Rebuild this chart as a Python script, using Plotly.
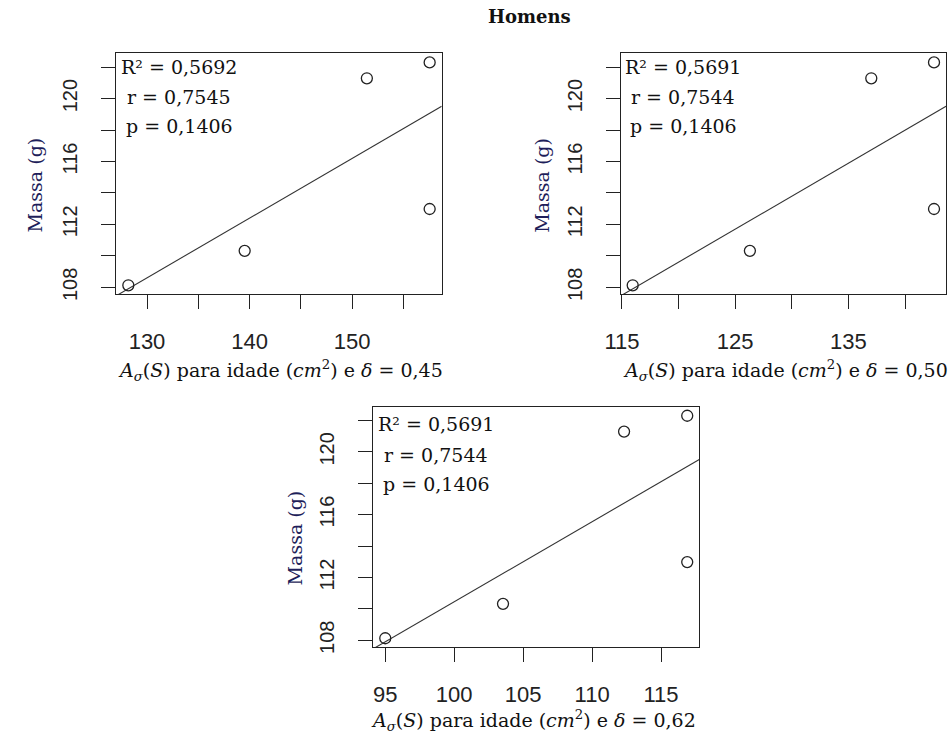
import plotly.graph_objects as go
import numpy as np

W, H = 950, 742

# Data
massa = [108.13, 110.32, 121.29, 122.30, 112.98]
area_045 = [128.18, 139.52, 151.43, 157.55, 157.55]
area_050 = [115.95, 126.30, 137.02, 142.56, 142.56]
area_062 = [95.00, 103.54, 112.32, 116.90, 116.90]

stats_045 = ["R² = 0,5692", "r = 0,7545", "p = 0,1406"]
stats_050 = ["R² = 0,5691", "r = 0,7544", "p = 0,1406"]
stats_062 = ["R² = 0,5691", "r = 0,7544", "p = 0,1406"]

deltas = ["0,45", "0,50", "0,62"]

xticks_045 = [130, 140, 150]
xticks_050 = [115, 125, 135]
xticks_062 = [95, 100, 105, 110, 115]
xminor = [5, 5, None]
yticks = [108, 112, 116, 120]
yminor = 2

# panel boxes in pixels (left, right, top, bottom)
boxes = [(102, 433, 54, 297), (615, 946, 54, 297), (363.3, 695, 410.7, 653.3)]
panels = [
    (area_045, stats_045, deltas[0], xticks_045, [0.945, 0.818, 0.698], 77),
    (area_050, stats_050, deltas[1], xticks_050, [0.945, 0.818, 0.698], 77),
    (area_062, stats_062, deltas[2], xticks_062, [0.928, 0.801, 0.677], 74),
]
title_dx = [1.5, 2, -2.5]
ylab_dx = [83, 80, 80]

SERIF = "DejaVu Serif, serif"
SANS = "Liberation Sans, Arial, sans-serif"

fig = go.Figure()
annotations = []
layout = {}
for i, ((xs, st, d, xt, sy, tdy), (l, r, t, b)) in enumerate(zip(panels, boxes)):
    n = "" if i == 0 else str(i + 1)
    xa, ya = "x" + n, "y" + n
    xarr = np.array(xs)
    yarr = np.array(massa)
    xr = xarr.max() - xarr.min()
    yr = yarr.max() - yarr.min()
    xrange = [xarr.min() - 0.04 * xr, xarr.max() + 0.04 * xr]
    yrange = [yarr.min() - 0.04 * yr, yarr.max() + 0.04 * yr]
    slope, icpt = np.polyfit(xarr, yarr, 1)
    lx = np.array(xrange)
    fig.add_trace(go.Scatter(x=lx, y=icpt + slope * lx, mode="lines",
                             line=dict(color="#333333", width=1.1),
                             xaxis=xa, yaxis=ya, showlegend=False, hoverinfo="skip"))
    fig.add_trace(go.Scatter(x=xs, y=massa, mode="markers",
                             marker=dict(symbol="circle-open", size=11,
                                         color="#222222", line=dict(width=1.3)),
                             xaxis=xa, yaxis=ya, showlegend=False))
    axcommon = dict(showline=True, linecolor="#222222", linewidth=1.2, mirror=True,
                    ticks="outside", ticklen=14, tickwidth=1.2, tickcolor="#222222",
                    showgrid=False, zeroline=False)
    xaxis = dict(axcommon, domain=[l / W, r / W], range=xrange,
                 anchor=ya, tickmode="array", tickvals=xt,
                 ticklabelstandoff=13,
                 tickfont=dict(family=SANS, size=22, color="#222222"))
    if xminor[i]:
        xaxis["minor"] = dict(ticks="outside", ticklen=14, tickwidth=1.2, tickcolor="#222222",
                              dtick=xminor[i], tick0=xt[0], showgrid=False)
    layout["xaxis" + n] = xaxis
    layout["yaxis" + n] = dict(axcommon, domain=[1 - b / H, 1 - t / H], range=yrange,
                               anchor=xa, tickmode="array", tickvals=yticks,
                               tickangle=-90, ticklabelstandoff=16,
                               tickfont=dict(family=SANS, size=20, color="#222222"),
                               minor=dict(ticks="outside", ticklen=14, tickwidth=1.2,
                                          tickcolor="#222222", dtick=yminor, tick0=yticks[0],
                                          showgrid=False))
    xref_d, yref_d = xa + " domain", ya + " domain"
    for txt, yy in zip(st, sy):
        annotations.append(dict(text=txt, xref=xref_d, yref=yref_d, x=0.193, y=yy,
                                xanchor="center", yanchor="middle", showarrow=False,
                                font=dict(family=SERIF, size=19, color="#111111")))
    # y-axis title
    annotations.append(dict(text="Massa (g)", xref="paper", yref="paper",
                            x=(l - ylab_dx[i]) / W, y=1 - ((t + b) / 2 + 11) / H, textangle=-90,
                            xanchor="center", yanchor="middle", showarrow=False,
                            font=dict(family=SERIF, size=19, color="#1e1e5a")))
    # x-axis title
    annotations.append(dict(
        text="<i>A</i><sub><i>σ</i></sub>(<i>S</i>) para idade (<i>cm</i><sup>2</sup>) e <i>δ</i> = " + d,
        xref="paper", yref="paper", x=((l + r) / 2 + title_dx[i]) / W, y=1 - (b + tdy) / H,
        xanchor="center", yanchor="middle", showarrow=False,
        font=dict(family=SERIF, size=19, color="#111111")))

annotations.append(dict(text="<b>Homens</b>", xref="paper", yref="paper",
                        x=522 / W, y=1 - 17 / H, xanchor="center", yanchor="middle",
                        showarrow=False, font=dict(family=SERIF, size=18, color="#111111")))

fig.update_layout(width=W, height=H, margin=dict(l=0, r=0, t=0, b=0),
                  paper_bgcolor="white", plot_bgcolor="white",
                  annotations=annotations, **layout)
fig.write_html("out.html", config={"displayModeBar": False},
               post_script="document.body.style.margin='0';document.body.style.overflow='hidden';")
